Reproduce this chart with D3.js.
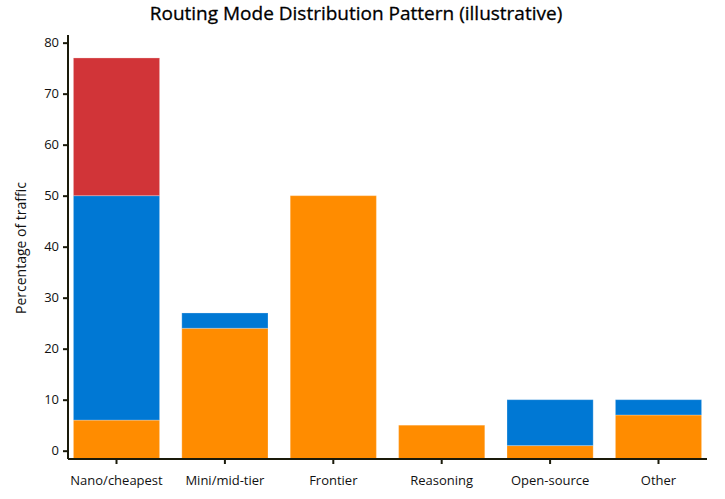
<!DOCTYPE html>
<html>
<head>
<meta charset="utf-8">
<script src="https://cdn.jsdelivr.net/npm/d3@7"></script>
<style>
  body { margin: 0; background: #fff; }
  svg { display: block; }
  text { font-family: "Open Sans", "Noto Sans", sans-serif; }
</style>
</head>
<body>
<svg id="chart" width="725" height="499"></svg>
<script>
const categories = ["Nano/cheapest", "Mini/mid-tier", "Frontier", "Reasoning", "Open-source", "Other"];
const seriesNames = ["base", "middle", "upper"];
const baseValues   = [6, 24, 50, 5, 1, 7];
const middleValues = [44, 3, 0, 0, 9, 3];
const upperValues  = [27, 0, 0, 0, 0, 0];
const yTicks = [0, 10, 20, 30, 40, 50, 60, 70, 80];
const colors = ["#FF8C00", "#0078D4", "#D13438"];

(function () {
const svg = d3.select("#chart");
const mLeft = 68, mRight = 707, mTop = 35, mBottom = 459;

const x = d3.scaleBand().domain(categories).range([mLeft, mRight]).paddingInner(0.205).paddingOuter(0.05);
const y = d3.scaleLinear().domain([-1.63, 81.5]).range([mBottom, mTop]);

const rows = categories.map((c, i) => ({cat: c, base: baseValues[i], middle: middleValues[i], upper: upperValues[i]}));
const stacked = d3.stack().keys(seriesNames)(rows);
const floor = y.domain()[0];

svg.append("g").selectAll("g").data(stacked).join("g")
  .attr("fill", (d, i) => colors[i])
  .selectAll("rect").data(d => d.filter(s => s[1] - s[0] > 0)).join("rect")
  .attr("x", d => x(d.data.cat))
  .attr("width", x.bandwidth())
  .attr("y", d => y(d[1]))
  .attr("height", d => y(d[0] === 0 ? floor : d[0]) - y(d[1]))
  .attr("stroke", "#ffffff")
  .attr("stroke-opacity", 0.25)
  .attr("stroke-width", 1);

const yAxis = svg.append("g").attr("transform", `translate(${mLeft},0)`)
  .call(d3.axisLeft(y).tickValues(yTicks).tickSize(5).tickPadding(4));
yAxis.select(".domain").attr("stroke", "#1a1a0a").attr("stroke-width", 2).attr("d", `M0,${mTop}V${mBottom}`);
yAxis.selectAll(".tick line").attr("stroke", "#1a1a0a").attr("stroke-width", 2);
yAxis.selectAll(".tick text").attr("font-size", 13).attr("fill", "#111").style("font-family", "'Open Sans', sans-serif");

const xAxis = svg.append("g").attr("transform", `translate(0,${mBottom})`)
  .call(d3.axisBottom(x).tickSize(5).tickPadding(12));
xAxis.select(".domain").attr("stroke", "#1a1a0a").attr("stroke-width", 2).attr("d", `M${mLeft},0H${mRight}`);
xAxis.selectAll(".tick line").attr("stroke", "#1a1a0a").attr("stroke-width", 2);
xAxis.selectAll(".tick text").attr("font-size", 13).attr("fill", "#111").style("font-family", "'Open Sans', sans-serif");

svg.append("text").attr("x", 356).attr("y", 20).attr("text-anchor", "middle")
  .attr("font-size", 19).attr("fill", "#000").attr("stroke", "#000").attr("stroke-width", 0.3)
  .text("Routing Mode Distribution Pattern (illustrative)");

svg.append("text").attr("transform", `translate(26,${(mTop + mBottom) / 2 + 1}) rotate(-90)`)
  .attr("text-anchor", "middle").attr("font-size", 14).attr("fill", "#111")
  .text("Percentage of traffic");
})();
</script>
</body>
</html>
